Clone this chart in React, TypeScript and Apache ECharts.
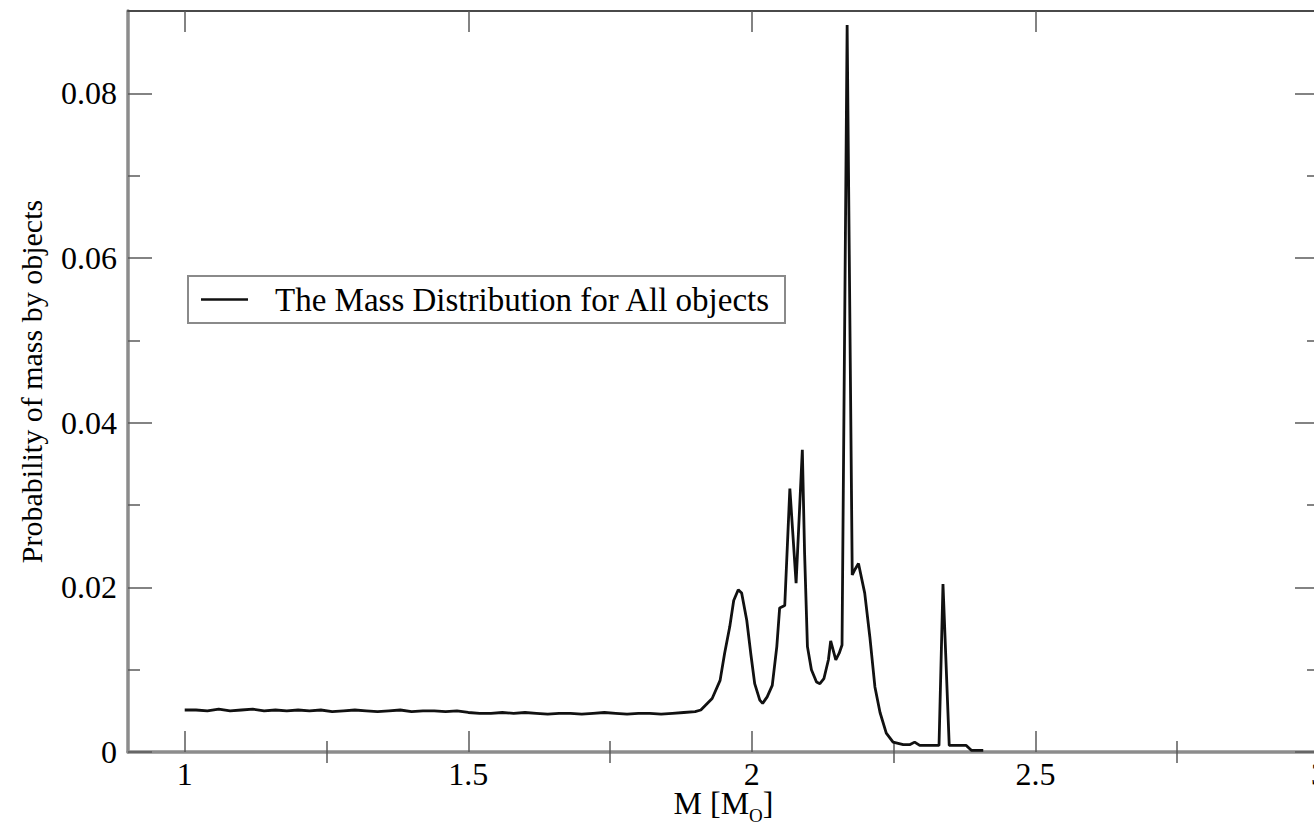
import React, { useEffect, useRef } from "react";
import * as echarts from "echarts";

// Mass values (M in solar masses)
const massValues = [
  1.0, 1.02, 1.04, 1.06, 1.08, 1.1, 1.12, 1.14, 1.16, 1.18,
  1.2, 1.22, 1.24, 1.26, 1.28, 1.3, 1.32, 1.34, 1.36, 1.38,
  1.4, 1.42, 1.44, 1.46, 1.48, 1.5, 1.52, 1.54, 1.56, 1.58,
  1.6, 1.62, 1.64, 1.66, 1.68, 1.7, 1.72, 1.74, 1.76, 1.78,
  1.8, 1.82, 1.84, 1.86, 1.88, 1.9, 1.91, 1.93, 1.944, 1.952,
  1.961, 1.968, 1.976, 1.982, 1.991, 1.998, 2.005, 2.014, 2.019, 2.027,
  2.036, 2.044, 2.049, 2.058, 2.067, 2.078, 2.089, 2.093, 2.098, 2.105,
  2.114, 2.12, 2.127, 2.135, 2.139, 2.148, 2.154, 2.159, 2.168, 2.177,
  2.182, 2.188, 2.199, 2.208, 2.217, 2.226, 2.237, 2.249, 2.267, 2.279,
  2.287, 2.296, 2.33, 2.337, 2.348, 2.378, 2.387, 2.408,
];

// Probability of mass by objects
const probabilityValues = [
  0.0051, 0.0051, 0.005, 0.0052, 0.005, 0.0051, 0.0052, 0.005, 0.0051, 0.005,
  0.0051, 0.005, 0.0051, 0.0049, 0.005, 0.0051, 0.005, 0.0049, 0.005, 0.0051,
  0.0049, 0.005, 0.005, 0.0049, 0.005, 0.0048, 0.0047, 0.0047, 0.0048, 0.0047,
  0.0048, 0.0047, 0.0046, 0.0047, 0.0047, 0.0046, 0.0047, 0.0048, 0.0047, 0.0046,
  0.0047, 0.0047, 0.0046, 0.0047, 0.0048, 0.0049, 0.0051, 0.0065, 0.0087, 0.012,
  0.0152, 0.0184, 0.0197, 0.0193, 0.016, 0.012, 0.0083, 0.0063, 0.0059, 0.0067,
  0.0081, 0.0128, 0.0175, 0.0178, 0.032, 0.0205, 0.0367, 0.0241, 0.0128, 0.01,
  0.0085, 0.0083, 0.0089, 0.0112, 0.0135, 0.0112, 0.012, 0.013, 0.0883, 0.0215,
  0.0222, 0.0229, 0.0193, 0.014, 0.0079, 0.0048, 0.0023, 0.0012, 0.0009, 0.0009,
  0.0012, 0.0008, 0.0008, 0.0204, 0.0008, 0.0008, 0.0002, 0.0002,
];

const xTickValues = [1, 1.5, 2, 2.5, 3];
const xMinorTickValues = [1.25, 1.75, 2.25, 2.75];
const yTickValues = [0, 0.02, 0.04, 0.06, 0.08];
const yMinorTickValues = [0.01, 0.03, 0.05, 0.07];

const seriesName = "The Mass Distribution for All objects";
const xAxisName = "M [M{sub|O}]";
const yAxisName = "Probability of mass by objects";

const FONT = "Liberation Serif";
const X_MIN = 0.9;
const X_MAX = 3.0;
const Y_MIN = 0;
const Y_MAX = 0.09;

export default function App() {
  const ref = useRef<HTMLDivElement>(null);

  useEffect(() => {
    if (!ref.current) return;
    const chart = echarts.init(ref.current, null, { renderer: "svg" });

    const data = massValues.map((m, i) => [m, probabilityValues[i]]);

    const tickStyle = { color: "#5a5a5a", width: 1.5 };
    const frameSide = { color: "#8c8c8c", width: 3.5 };
    const frameTop = { color: "#4a4a4a", width: 2 };

    const xBase = (position: string) => ({
      type: "value",
      position,
      min: X_MIN,
      max: X_MAX,
      splitLine: { show: false },
    });
    const yBase = (position: string) => ({
      type: "value",
      position,
      min: Y_MIN,
      max: Y_MAX,
      splitLine: { show: false },
    });

    const option: any = {
      animation: false,
      backgroundColor: "#ffffff",
      grid: {
        left: 128,
        top: 11,
        right: -5,
        bottom: 75,
        containLabel: false,
        outerBoundsMode: "none",
      },
      legend: {
        show: true,
        left: 201,
        top: 283,
        padding: 0,
        icon: "rect",
        itemWidth: 47,
        itemHeight: 2.5,
        data: [seriesName],
        itemStyle: { color: "#111" },
        textStyle: {
          fontFamily: FONT,
          fontSize: 33,
          color: "#000",
          padding: [0, 0, 0, 22],
        },
      },
      graphic: [
        {
          type: "rect",
          shape: { x: 188, y: 276, width: 597, height: 47 },
          style: { fill: "none", stroke: "#8a8a8a", lineWidth: 2 },
          silent: true,
        },
      ],
      xAxis: [
        {
          ...xBase("bottom"),
          name: xAxisName,
          nameLocation: "middle",
          nameGap: 28,
          nameMoveOverlap: false,
          nameTextStyle: {
            fontFamily: FONT,
            fontSize: 32,
            color: "#000",
            rich: {
              sub: { fontFamily: FONT, fontSize: 19, color: "#000", padding: [26, 0, 0, 0] },
            },
          },
          axisLine: { show: true, onZero: false, lineStyle: frameSide },
          axisTick: { show: true, inside: true, length: 21, customValues: xTickValues, lineStyle: tickStyle },
          axisLabel: {
            show: true,
            customValues: xTickValues,
            margin: 6,
            fontFamily: FONT,
            fontSize: 32,
            color: "#000",
            hideOverlap: false,
          },
        },
        {
          ...xBase("bottom"),
          axisLine: { show: false },
          axisTick: { show: true, inside: true, length: 11, customValues: xMinorTickValues, lineStyle: tickStyle },
          axisLabel: { show: false },
        },
        {
          ...xBase("top"),
          axisLine: { show: true, onZero: false, lineStyle: frameTop },
          axisTick: { show: true, inside: true, length: 21, customValues: xTickValues, lineStyle: tickStyle },
          axisLabel: { show: false },
        },
        {
          ...xBase("top"),
          axisLine: { show: false },
          axisTick: { show: true, inside: true, length: 11, customValues: xMinorTickValues, lineStyle: tickStyle },
          axisLabel: { show: false },
        },
      ],
      yAxis: [
        {
          ...yBase("left"),
          name: yAxisName,
          nameLocation: "middle",
          nameGap: 82,
          nameMoveOverlap: false,
          nameTextStyle: { fontFamily: FONT, fontSize: 30, color: "#000" },
          axisLine: { show: true, onZero: false, lineStyle: frameSide },
          axisTick: { show: true, inside: true, length: 24, customValues: yTickValues, lineStyle: tickStyle },
          axisLabel: {
            show: true,
            customValues: yTickValues,
            margin: 11,
            fontFamily: FONT,
            fontSize: 32,
            color: "#000",
          },
        },
        {
          ...yBase("left"),
          axisLine: { show: false },
          axisTick: { show: true, inside: true, length: 12, customValues: yMinorTickValues, lineStyle: tickStyle },
          axisLabel: { show: false },
        },
        {
          ...yBase("right"),
          axisLine: { show: true, onZero: false, lineStyle: frameTop },
          axisTick: { show: true, inside: true, length: 24, customValues: yTickValues, lineStyle: tickStyle },
          axisLabel: { show: false },
        },
        {
          ...yBase("right"),
          axisLine: { show: false },
          axisTick: { show: true, inside: true, length: 12, customValues: yMinorTickValues, lineStyle: tickStyle },
          axisLabel: { show: false },
        },
      ],
      series: [
        {
          name: seriesName,
          type: "line",
          xAxisIndex: 0,
          yAxisIndex: 0,
          data,
          symbol: "none",
          showSymbol: false,
          smooth: false,
          lineStyle: { color: "#111", width: 2.8 },
          itemStyle: { color: "#111" },
        },
      ],
    };

    chart.setOption(option);
    return () => chart.dispose();
  }, []);

  return (
    <div
      ref={ref}
      style={{ position: "fixed", left: 0, top: 0, width: 1314, height: 827, background: "#fff" }}
    />
  );
}
